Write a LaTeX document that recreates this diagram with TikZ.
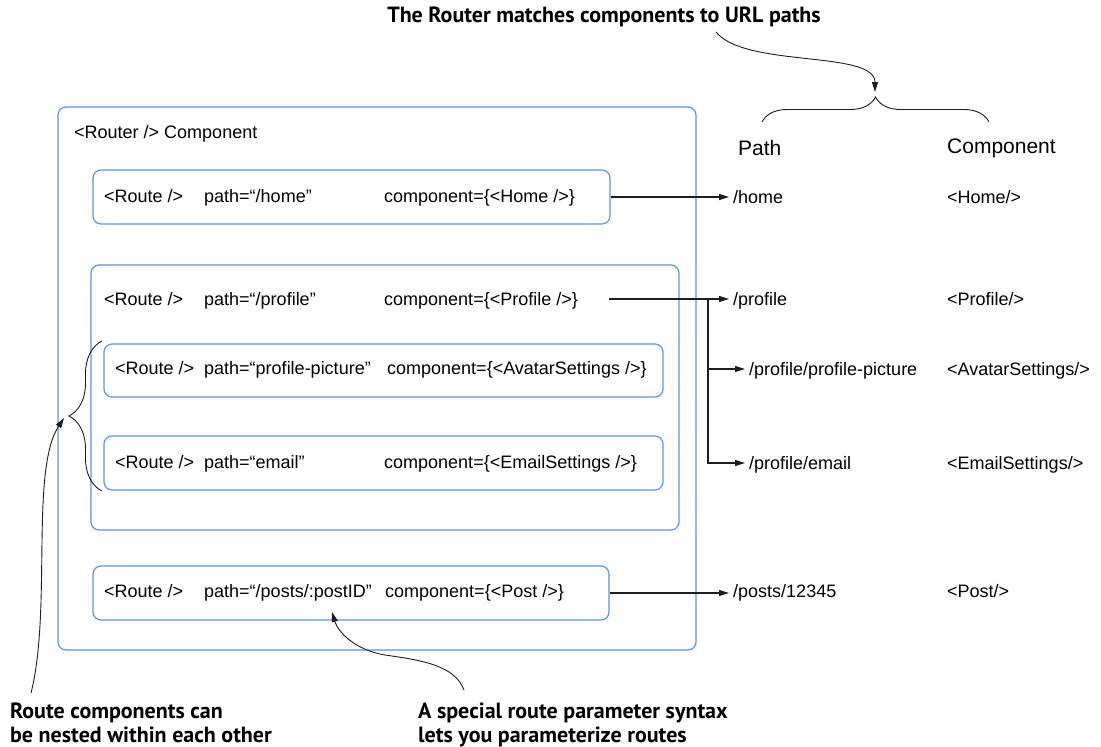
\documentclass[tikz,border=0pt]{standalone}
\usepackage{fontspec}
\setmainfont{Liberation Sans}
\newfontfamily\capfont{PT Sans}
\usepackage{tikz}
\usetikzlibrary{arrows.meta,positioning,decorations.pathreplacing,calc}

\definecolor{routeblue}{RGB}{98,148,214}
\definecolor{inkline}{RGB}{30,30,30}

\begin{document}
\begin{tikzpicture}[
  x=1pt, y=-1pt,
  routebox/.style={draw=routeblue, line width=1.2pt, rounded corners=8pt, inner sep=0pt},
  txt/.style={anchor=west, inner sep=0pt, text height=13pt, text depth=0pt,
    font=\fontsize{18}{21}\selectfont},
  hdr/.style={anchor=west, inner sep=0pt, font=\fontsize{21}{24}\selectfont},
  capt/.style={inner sep=0pt, align=left, text=black,
    font=\capfont\bfseries\fontsize{22}{24}\selectfont},
  conn/.style={draw=inkline, line width=1.1pt, -{Triangle[length=10pt,width=6pt]}},
  curve/.style={draw=inkline, line width=0.9pt},
  bracket/.style={curve, decorate, decoration={brace, amplitude=#1}}
]
  \useasboundingbox (0,0) rectangle (1101,747);

  % boxes
  \node[routebox, minimum width=638, minimum height=543] (router) at (377,378.5) {};
  \node[txt] (routerlbl) at (74,132) {<Router /> Component};
  \node[routebox, minimum width=517, minimum height=54] (homebox) at (351.5,197) {};
  \node[routebox, minimum width=588, minimum height=265] (profbox) at (385,397.5) {};
  \node[routebox, minimum width=559, minimum height=53] (picbox) at (383.5,370.5) {};
  \node[routebox, minimum width=559, minimum height=54] (mailbox) at (383.5,463) {};
  \node[routebox, minimum width=516, minimum height=54] (postbox) at (351,593) {};

  % route texts
  \foreach \nm/\xa/\xc/\yy/\pth/\cmp in {
    home/104/384/196/{“/home”}/{Home},
    prof/104/384/299/{“/profile”}/{Profile},
    pic/115/387/368/{“profile-picture”}/{AvatarSettings},
    mail/115/384/462/{“email”}/{EmailSettings},
    post/104/385/591/{“/posts/:postID”}/{Post}}
  {
    \node[txt] (\nm-tag) at (\xa,\yy) {<Route />};
    \node[txt] (\nm-path) at (204,\yy) {path=\pth};
    \node[txt] (\nm-comp) at (\xc,\yy) {component=\{<\cmp\ />\}};
  }

  % matched table
  \node[hdr] (pathhdr) at (738,148) {Path};
  \node[hdr] (comphdr) at (947,148) {Component};
  \foreach \nm/\xp/\yy/\url/\cmp in {
    home/733/197/{/home}/{Home},
    prof/733/299/{/profile}/{Profile},
    pic/749/369/{/profile/profile-picture}/{AvatarSettings},
    mail/749/463/{/profile/email}/{EmailSettings},
    post/733/591/{/posts/12345}/{Post}}
  {
    \node[txt] (\nm-url) at (\xp,\yy) {\url};
    \node[txt] (\nm-res) at (947,\yy) {<\cmp/>};
  }

  % arrows to the table
  \draw[conn, shorten >=4pt] (homebox.east) -- (homebox.east -| home-url.west);
  \draw[conn, shorten >=4pt] (postbox.east) -- (postbox.east -| post-url.west);
  \coordinate (profout) at (609,299);
  \coordinate (split) at (708,299);
  \draw[conn, shorten >=4pt] (profout) -- (profout -| prof-url.west);
  \draw[conn, shorten >=4pt] (split) |- (pic-url.west);
  \draw[conn, shorten >=4pt] (split) |- (mail-url.west);

  % braces
  \coordinate (brl) at (762,122);
  \coordinate (brr) at (989,122);
  \draw[bracket=25pt] (brl) -- (brr);
  \coordinate (nestlo) at (102,491);
  \coordinate (nesthi) at (102,341);
  \draw[bracket=33pt] (nestlo) -- (nesthi);

  % notes
  \node[capt] (title) at (604,17) {The Router matches components to URL paths};
  \node[capt, anchor=north west] (nestnote) at (10,703)
    {Route components can\\be nested within each other};
  \node[capt, anchor=north west] (paramnote) at (418,703)
    {A special route parameter syntax\\lets you parameterize routes};

  \coordinate (titletail) at (716,32);
  \coordinate (brtip) at (875,92);
  \draw[curve, -{Triangle[length=10pt,width=6pt]}]
    (titletail) .. controls (745,68) and (875,50) .. (brtip);
  \coordinate (nesttail) at (31,693);
  \coordinate (nesttip) at (64,418);
  \draw[curve, -{Triangle[length=10pt,width=6pt]}]
    (nesttail) .. controls (52,610) and (30,470) .. (nesttip);
  \coordinate (paramtail) at (464,690);
  \coordinate (paramtip) at (332,612);
  \draw[curve, -{Triangle[length=10pt,width=6pt]}]
    (paramtail) .. controls (455,665) and (420,660) .. (385,655)
    .. controls (355,650) and (338,632) .. (paramtip);
\end{tikzpicture}
\end{document}
